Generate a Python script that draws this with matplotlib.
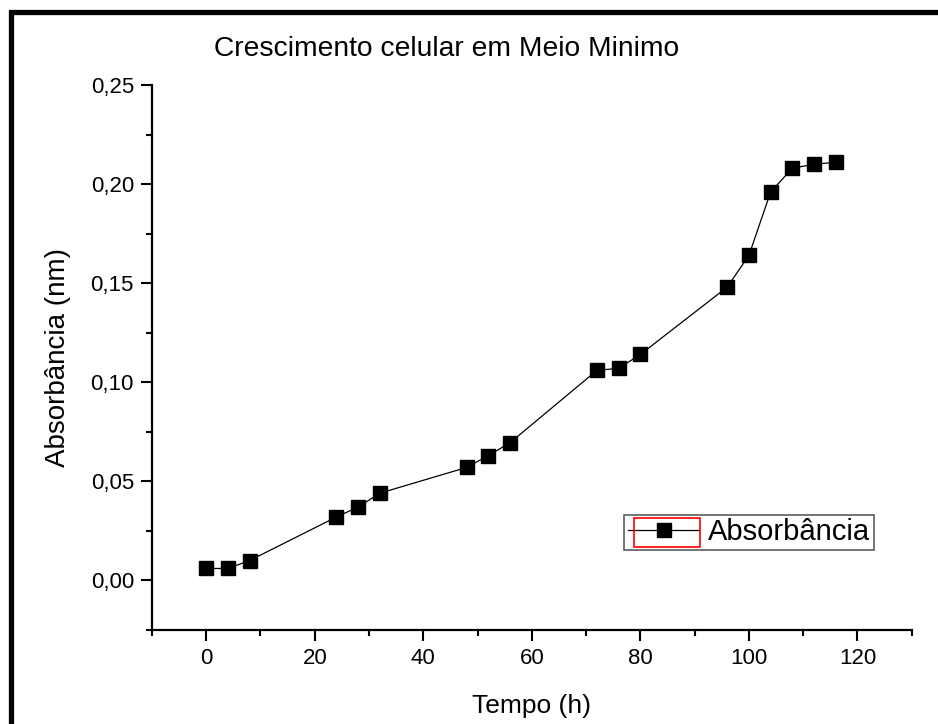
import numpy as np
import matplotlib.pyplot as plt
from matplotlib.patches import Rectangle

plt.rcParams['font.family'] = ['Liberation Sans', 'DejaVu Sans']

TIME_H = [0, 4, 8, 24, 28, 32, 48, 52, 56, 72, 76, 80, 96, 100, 104, 108, 112, 116]
ABSORB = [0.006, 0.006, 0.010, 0.032, 0.037, 0.044, 0.057, 0.063, 0.0695,
          0.106, 0.107, 0.114, 0.148, 0.164, 0.196, 0.208, 0.210, 0.211]
Y_TICKS = [0.00, 0.05, 0.10, 0.15, 0.20, 0.25]
X_TICKS = [0, 20, 40, 60, 80, 100, 120]


def main():
    fig = plt.figure(figsize=(9.38, 7.24), dpi=100)
    ax = fig.add_axes([0.162, 0.130, 0.810, 0.7526])

    ax.plot(TIME_H, ABSORB, color="black", lw=0.9, marker="s", ms=10,
            mfc="black", mec="black", label="Absorbância")

    ax.set_xlim(-10, 130)
    ax.set_ylim(-0.025, 0.25)
    ax.set_xticks(X_TICKS)
    ax.set_xticks(np.arange(-10, 131, 10), minor=True)
    ax.set_yticks(Y_TICKS)
    ax.set_yticks(np.arange(-0.025, 0.251, 0.025), minor=True)
    ax.set_yticklabels([f"{v:.2f}".replace(".", ",") for v in Y_TICKS])

    for side in ("top", "right"):
        ax.spines[side].set_visible(False)
    for side in ("left", "bottom"):
        ax.spines[side].set_linewidth(1.6)
    ax.tick_params(which="major", direction="out", length=8, width=1.5,
                   labelsize=16, pad=5)
    ax.tick_params(which="minor", direction="out", length=4, width=1.5)

    ax.set_xlabel("Tempo (h)", fontsize=19, labelpad=18)
    ax.set_ylabel("Absorbância (nm)", fontsize=20, labelpad=14)
    fig.text(0.476, 0.933, "Crescimento celular em Meio Minimo",
             fontsize=20.3, ha="center", va="center")

    leg = ax.legend(loc="lower right", bbox_to_anchor=(0.95, 0.147),
                    fontsize=21, frameon=True, fancybox=False,
                    borderpad=0.12, handlelength=2.45, handletextpad=0.3,
                    borderaxespad=0)
    leg.get_frame().set_edgecolor("#333333")
    leg.get_frame().set_linewidth(1.2)

    # red box round the legend symbol, as in the original export
    fig.canvas.draw()
    lb = leg.get_window_extent(fig.canvas.get_renderer())
    fw, fh = fig.bbox.width, fig.bbox.height
    fig.patches.append(Rectangle(((lb.x0 + 10) / fw, (lb.y0 + 3) / fh),
                                 66 / fw, (lb.height - 6) / fh,
                                 transform=fig.transFigure,
                                 fill=False, edgecolor="red", lw=1.2))

    # thick outer frame (cut off at right and bottom)
    fig.patches.append(Rectangle((10.5 / fw, -0.05), 1.2, 1.05 - 12 / fh,
                                 transform=fig.transFigure, fill=False,
                                 edgecolor="black", lw=3.8, clip_on=False))

    fig.savefig("out.png", dpi=100)


if __name__ == "__main__":
    main()
